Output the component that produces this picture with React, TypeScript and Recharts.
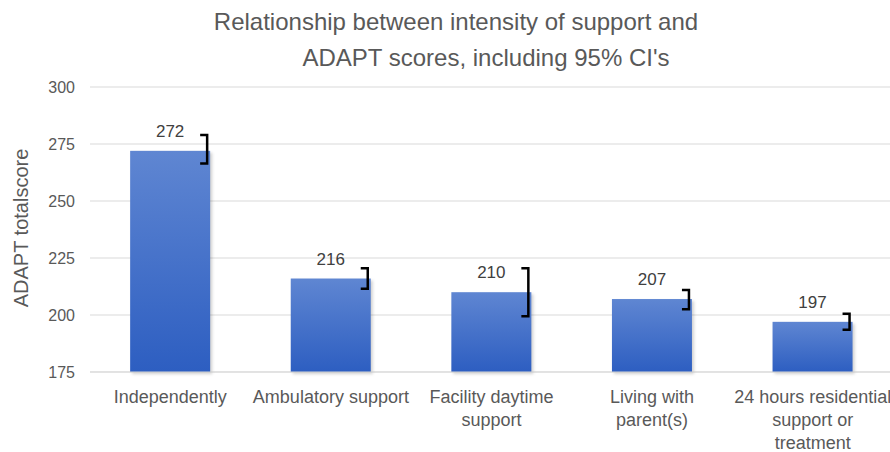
import { BarChart, Bar, XAxis, YAxis, CartesianGrid, LabelList } from 'recharts'

// values
const categories = [
  'Independently',
  'Ambulatory support',
  'Facility daytime\nsupport',
  'Living with\nparent(s)',
  '24 hours residential\nsupport or\ntreatment',
]
const scores = [272, 216, 210, 207, 197]
const ciLow = [266.5, 211.5, 199.5, 202.5, 193.5]
const ciHigh = [279, 220.5, 220.5, 211, 200.5]
const yTicks = [175, 200, 225, 250, 275, 300]

const data = categories.map((name, i) => ({
  name,
  score: scores[i],
  lo: ciLow[i],
  hi: ciHigh[i],
}))

const FONT = '"Liberation Sans", Arial, sans-serif'
const GREY = '#595959'

function BarWithCI(props: any) {
  const { x, y, width, height, payload } = props
  // px per unit, derived from the bar the scale drew (base = 175)
  const k = height / (payload.score - yTicks[0])
  const yHi = y + (payload.score - payload.hi) * k
  const yLo = y + (payload.score - payload.lo) * k
  const bx = x + width - 3
  return (
    <g>
      <rect x={x + 2} y={y + 2} width={width} height={height} fill="rgba(0,0,0,0.18)" filter="url(#barShadow)" />
      <rect x={x} y={y} width={width} height={height} fill="url(#barGrad)" />
      <path
        d={`M${bx - 7},${yHi} H${bx} V${yLo} H${bx - 7}`}
        stroke="#000"
        strokeWidth={2.5}
        fill="none"
      />
    </g>
  )
}

function CategoryTick({ x, y, payload }: any) {
  const lines = String(payload.value).split('\n')
  return (
    <text x={x} y={y + 31} textAnchor="middle" fill={GREY} fontSize={18} fontFamily={FONT}>
      {lines.map((l, i) => (
        <tspan key={i} x={x} dy={i === 0 ? 0 : 23}>
          {l}
        </tspan>
      ))}
    </text>
  )
}

export default function App() {
  return (
    <div style={{ position: 'absolute', left: 0, top: 0, width: 890, height: 452, background: '#fff', fontFamily: FONT, overflow: 'hidden' }}>
      <svg width={0} height={0} style={{ position: 'absolute' }}>
        <defs>
          <linearGradient id="barGrad" x1="0" y1="0" x2="0" y2="1">
            <stop offset="0%" stopColor="#5f86d2" />
            <stop offset="100%" stopColor="#2d5ec1" />
          </linearGradient>
          <filter id="barShadow" x="-10%" y="-10%" width="130%" height="130%">
            <feGaussianBlur stdDeviation="1.5" />
          </filter>
        </defs>
      </svg>

      <div style={{ position: 'absolute', left: 156, top: 7, width: 600, textAlign: 'center', fontSize: 24, lineHeight: '30px', color: GREY }}>
        Relationship between intensity of support and
      </div>
      <div style={{ position: 'absolute', left: 186, top: 43, width: 600, textAlign: 'center', fontSize: 24, lineHeight: '30px', color: GREY }}>
        ADAPT scores, including 95% CI's
      </div>

      <BarChart
        width={890}
        height={452}
        data={data}
        margin={{ top: 87, right: -3, bottom: 0, left: 0 }}
        barCategoryGap="25%"
      >
        <CartesianGrid vertical={false} stroke="#d9d9d9" strokeWidth={1} />
        <XAxis
          dataKey="name"
          height={80}
          axisLine={{ stroke: '#d9d9d9' }}
          tickLine={false}
          tickSize={0}
          tickMargin={0}
          interval={0}
          tick={<CategoryTick />}
        />
        <YAxis
          width={90}
          domain={[175, 300]}
          ticks={yTicks}
          axisLine={false}
          tickLine={false}
          tickSize={0}
          tickMargin={15}
          tick={{ fill: GREY, fontSize: 16, fontFamily: FONT }}
          label={{
            content: () => (
              <text
                x={28}
                y={228}
                transform="rotate(-90 28 228)"
                textAnchor="middle"
                fill={GREY}
                fontSize={20}
                fontFamily={FONT}
              >
                ADAPT totalscore
              </text>
            ),
          }}
        />
        <Bar dataKey="score" shape={<BarWithCI />} isAnimationActive={false}>
          <LabelList
            dataKey="score"
            position="top"
            offset={14}
            fill="#404040"
            fontSize={17}
            fontFamily={FONT}
          />
        </Bar>
      </BarChart>
    </div>
  )
}
